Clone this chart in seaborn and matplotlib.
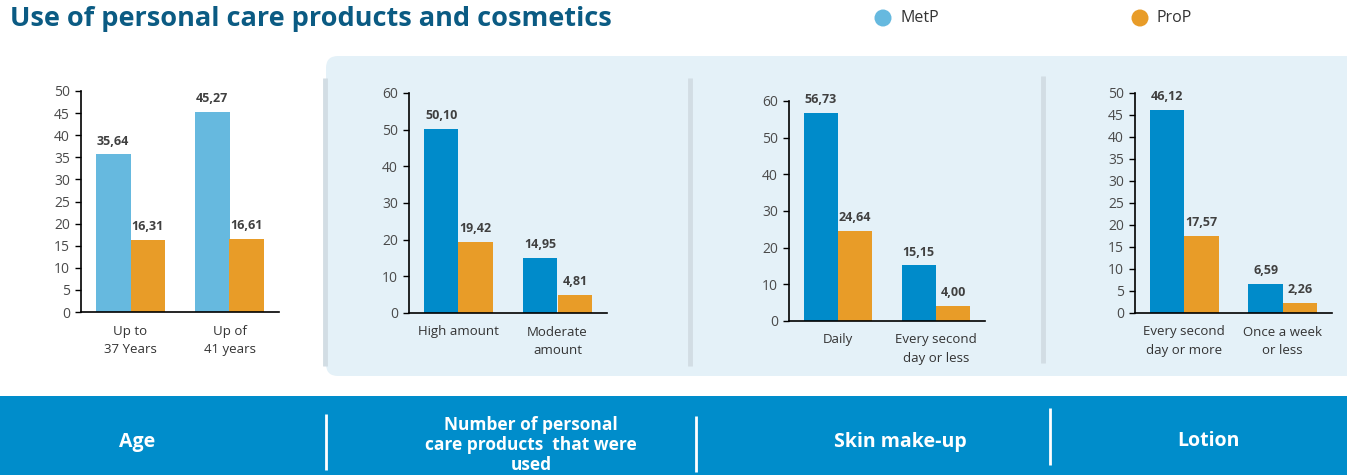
import pandas as pd
import matplotlib.pyplot as plt
import seaborn as sns
from matplotlib.patches import FancyBboxPatch, Rectangle

# --- data ---
series = ["MetP", "ProP"]

age_cats = ["Up to\n37 Years", "Up of\n41 years"]
age_metp = [35.64, 45.27]
age_prop = [16.31, 16.61]

amount_cats = ["High amount", "Moderate\namount"]
amount_metp = [50.10, 14.95]
amount_prop = [19.42, 4.81]

makeup_cats = ["Daily", "Every second\nday or less"]
makeup_metp = [56.73, 15.15]
makeup_prop = [24.64, 4.00]

lotion_cats = ["Every second\nday or more", "Once a week\nor less"]
lotion_metp = [46.12, 6.59]
lotion_prop = [17.57, 2.26]

band_titles = ["Age", "Number of personal\ncare products  that were\nused", "Skin make-up", "Lotion"]

W, H = 1347, 475
LIGHT_BLUE = "#66b9df"
BLUE = "#008bca"
ORANGE = "#e89c28"
TXT = "#404040"

sns.set_theme(style="white")
plt.rcParams["font.family"] = ["Open Sans", "DejaVu Sans"]

fig = plt.figure(figsize=(W / 100, H / 100), dpi=100)

# background layer in pixel coordinates
bg = fig.add_axes([0, 0, 1, 1])
bg.set_xlim(0, W)
bg.set_ylim(H, 0)
bg.axis("off")
bg.add_patch(FancyBboxPatch((326, 56), 1040, 320, boxstyle="round,pad=0,rounding_size=12",
                            fc="#e4f1f8", ec="none"))
for x, y0, y1 in [(325, 78, 366), (690, 78, 366), (1043, 76, 363)]:
    bg.plot([x, x], [y0, y1], color="#d2dde4", lw=3.5, solid_capstyle="butt")
bg.add_patch(Rectangle((0, 396), W, 80, fc="#008dcb", ec="none"))
for x, y0, y1 in [(326, 414, 470), (696, 416, 472), (1050, 408, 465)]:
    bg.plot([x, x], [y0, y1], color="white", lw=2, solid_capstyle="butt")
for xc, yc, t, fs in zip([137, 531, 900, 1208], [442, 445, 442, 441], band_titles,
                         [14, 12.5, 14, 14]):
    bg.text(xc, yc, t, ha="center", va="center", color="white", fontsize=fs,
            fontweight="bold", linespacing=1.12)

bg.text(10, 19, "Use of personal care products and cosmetics", ha="left", va="center",
        fontsize=19.5, fontweight="bold", color="#0b5b83")
for xm, lbl, c in [(883, "MetP", "#66b9df"), (1140, "ProP", ORANGE)]:
    bg.scatter([xm], [18], s=150, color=c, edgecolors="none")
    bg.text(xm + 17, 18, lbl, ha="left", va="center", fontsize=11.5, color="#333333")

panels = [
    (age_cats, age_metp, age_prop, (81, 279, 312, 91), 50, 5, LIGHT_BLUE),
    (amount_cats, amount_metp, amount_prop, (409, 607, 313, 93), 60, 10, BLUE),
    (makeup_cats, makeup_metp, makeup_prop, (789, 985, 321, 101), 60, 10, BLUE),
    (lotion_cats, lotion_metp, lotion_prop, (1135, 1332, 313, 93), 50, 5, BLUE),
]

for cats, metp, prop, (x0, x1, yb, yt), ymax, step, c_met in panels:
    ax = fig.add_axes([x0 / W, 1 - yb / H, (x1 - x0) / W, (yb - yt) / H])
    ax.patch.set_alpha(0)
    df = pd.DataFrame({
        "cat": cats * 2,
        "group": [series[0]] * len(cats) + [series[1]] * len(cats),
        "value": metp + prop,
    })
    sns.barplot(data=df, x="cat", y="value", hue="group", hue_order=series,
                palette=[c_met, ORANGE], width=0.7, gap=0, saturation=1,
                legend=False, ax=ax, errorbar=None, linewidth=0)
    for cont in ax.containers:
        ax.bar_label(cont, labels=[f"{b.get_height():.2f}".replace(".", ",") for b in cont],
                     padding=5, fontsize=9, fontweight="bold", color=TXT)
    ax.set_xlim(-0.5, 1.5)
    ax.set_ylim(0, ymax)
    ax.set_yticks(range(0, ymax + 1, step))
    ax.set_xlabel("")
    ax.set_ylabel("")
    for s in ["top", "right"]:
        ax.spines[s].set_visible(False)
    for s in ["left", "bottom"]:
        ax.spines[s].set_color("black")
        ax.spines[s].set_linewidth(1.2)
    ax.tick_params(axis="y", direction="out", length=4, width=1, color="black",
                   labelsize=10, labelcolor="#4a4a4a", pad=4, left=True)
    ax.tick_params(axis="x", length=0, labelsize=9.5, labelcolor="#333333", pad=9)
    for lab in ax.get_xticklabels():
        lab.set_linespacing(1.55)

fig.savefig("out.png", dpi=100)
